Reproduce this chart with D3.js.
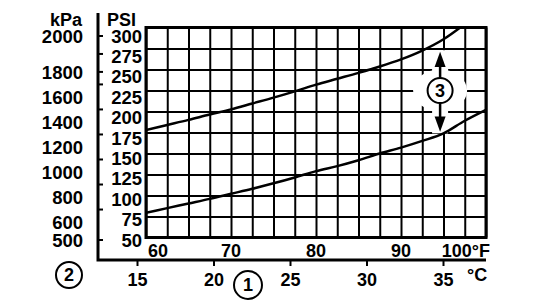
<!DOCTYPE html>
<html>
<head>
<meta charset="utf-8">
<script src="https://d3js.org/d3.v7.min.js"></script>
<style>
  body { margin: 0; background: #fff; }
  text { font-family: "Liberation Sans", Arial, sans-serif; font-weight: bold; fill: #000; }
</style>
</head>
<body>
<svg width="560" height="306"></svg>
<script>
// values (pressure in PSI against temperature in °F)
const tempF = [60, 62.5, 65, 67.5, 70, 72.5, 75, 77.5, 80, 82.5, 85, 87.5, 90, 92.5, 95, 97.5, 100];
const upperPsi = [178, 184, 190, 196.5, 202.5, 209.5, 216.5, 224, 232, 239, 246, 253.5, 262, 272.5, 286, 304];
const lowerPsi = [79.5, 85, 90.5, 96, 102, 108, 114.5, 121.5, 129, 135, 142, 150, 157, 165, 174, 189, 202];

// tick labels
const psiTicks = [50, 75, 100, 125, 150, 175, 200, 225, 250, 275, 300];
const kpaLabels = [500, 600, 800, 1000, 1200, 1400, 1600, 1800, 2000];
const kpaTicks = [500, 700, 900, 1100, 1300, 1500, 1700, 1800, 1900, 2000];
const fLabels = [60, 70, 80, 90, 100];
const cLabels = [15, 20, 25, 30, 35];

const svg = d3.select('svg');

const x = d3.scaleLinear().domain([60, 100]).range([146, 486]);
const y = d3.scaleLinear().domain([50, 300]).range([237.5, 27.5]);
// the printed labels sit a little off the grid lines, on a slightly tighter pitch
const yLabel = d3.scaleLinear().domain([50, 300]).range([240, 36]);
// the kPa scale on the drawing is not a true conversion, so it is pinned to psi spots
const kpaToPsi = d3.scaleLinear().domain([500, 600, 1800, 2000]).range([50, 72, 256, 300]);
const kpaY = k => yLabel(kpaToPsi(k));
const cToF = c => c * 9 / 5 + 32;

const plotH = y(50) - y(300);
const plotW = x(100) - x(60);

// grid
svg.append('g')
    .attr('transform', `translate(0,${y(300)})`)
    .call(d3.axisBottom(x).tickValues(d3.range(60, 100.1, 2.5)).tickSize(plotH).tickSizeOuter(0).tickFormat(''));
svg.append('g')
    .attr('transform', `translate(${x(60)},0)`)
    .call(d3.axisRight(y).tickValues(psiTicks).tickSize(plotW).tickSizeOuter(0).tickFormat(''));
svg.selectAll('.domain').remove();
svg.selectAll('.tick line').attr('stroke', '#000').attr('stroke-width', 2);

svg.append('rect')
    .attr('x', x(60)).attr('y', y(300))
    .attr('width', plotW).attr('height', plotH)
    .attr('fill', 'none').attr('stroke', '#000').attr('stroke-width', 3);

// white halo round the (3) marker
const markF = 94.6, markPsi = 225;
svg.append('ellipse')
    .attr('cx', x(markF)).attr('cy', y(markPsi))
    .attr('rx', 27).attr('ry', 21).attr('fill', '#fff');
svg.append('rect')
    .attr('x', x(markF) - 8).attr('y', y(273))
    .attr('width', 16).attr('height', y(174) - y(273))
    .attr('fill', '#fff');

// curves
svg.append('clipPath').attr('id', 'plot')
  .append('rect')
    .attr('x', x(60)).attr('y', y(300))
    .attr('width', plotW).attr('height', plotH);

const line = d3.line()
    .x((d, i) => x(tempF[i]))
    .y(d => y(d))
    .curve(d3.curveMonotoneX);

[upperPsi, lowerPsi].forEach(s => {
  svg.append('path')
      .attr('d', line(s))
      .attr('clip-path', 'url(#plot)')
      .attr('fill', 'none')
      .attr('stroke', '#000')
      .attr('stroke-width', 2.5);
});

// (3) marker with arrows
const mx = x(markF), my = y(markPsi), mr = 12.5;
svg.append('line')
    .attr('x1', mx).attr('x2', mx)
    .attr('y1', my - mr).attr('y2', y(262))
    .attr('stroke', '#000').attr('stroke-width', 2.5);
svg.append('line')
    .attr('x1', mx).attr('x2', mx)
    .attr('y1', my + mr).attr('y2', y(186))
    .attr('stroke', '#000').attr('stroke-width', 2.5);
svg.append('path')
    .attr('d', `M${mx},${y(271)} L${mx - 5.5},${y(253)} L${mx + 5.5},${y(253)} Z`);
svg.append('path')
    .attr('d', `M${mx},${y(176)} L${mx - 5.5},${y(194)} L${mx + 5.5},${y(194)} Z`);

function circled(cx, cy, r, label, size) {
  svg.append('circle')
      .attr('cx', cx).attr('cy', cy).attr('r', r)
      .attr('fill', '#fff').attr('stroke', '#000').attr('stroke-width', 2);
  svg.append('text')
      .attr('x', cx).attr('y', cy)
      .attr('dy', '0.36em')
      .attr('text-anchor', 'middle')
      .style('font-size', size + 'px')
      .text(label);
}
circled(mx, my, mr, '3', 18);

// left bracket and bottom line
svg.append('path')
    .attr('d', `M98,13 V260 H${x(100)}`)
    .attr('fill', 'none').attr('stroke', '#000').attr('stroke-width', 3);

svg.selectAll('.kpa-tick').data(kpaTicks).enter().append('line')
    .attr('class', 'kpa-tick')
    .attr('x1', 98).attr('x2', 103)
    .attr('y1', kpaY).attr('y2', kpaY)
    .attr('stroke', '#000').attr('stroke-width', 2);

svg.selectAll('.c-tick').data(cLabels).enter().append('line')
    .attr('class', 'c-tick')
    .attr('x1', d => x(cToF(d))).attr('x2', d => x(cToF(d)))
    .attr('y1', 260).attr('y2', 266)
    .attr('stroke', '#000').attr('stroke-width', 2);

// axis labels
svg.append('text').attr('x', 82).attr('y', 26).attr('text-anchor', 'end')
    .style('font-size', '18px').text('kPa');
svg.append('text').attr('x', 107).attr('y', 26)
    .style('font-size', '18px').text('PSI');

svg.selectAll('.kpa').data(kpaLabels).enter().append('text')
    .attr('x', 83)
    .attr('y', kpaY)
    .attr('dy', '0.36em')
    .attr('text-anchor', 'end')
    .style('font-size', '18.5px')
    .text(d => d);

svg.selectAll('.psi').data(psiTicks).enter().append('text')
    .attr('x', 142)
    .attr('y', d => yLabel(d))
    .attr('dy', '0.36em')
    .attr('text-anchor', 'end')
    .style('font-size', '18.5px')
    .text(d => d);

svg.selectAll('.f').data(fLabels).enter().append('text')
    .attr('x', d => d === 60 ? x(d) + 2 : d === 100 ? x(d) + 4 : x(d))
    .attr('y', 257)
    .attr('text-anchor', d => d === 60 ? 'start' : d === 100 ? 'end' : 'middle')
    .style('font-size', '18px')
    .text(d => d === 100 ? d + '°F' : d);

svg.selectAll('.c').data(cLabels).enter().append('text')
    .attr('x', d => x(cToF(d)))
    .attr('y', 286)
    .attr('text-anchor', 'middle')
    .style('font-size', '18px')
    .text(d => d);
svg.append('text').attr('x', 467).attr('y', 281)
    .style('font-size', '18px').text('°C');

circled(69, 275, 13, '2', 18);
circled(248, 285, 14, '1', 18);
</script>
</body>
</html>
